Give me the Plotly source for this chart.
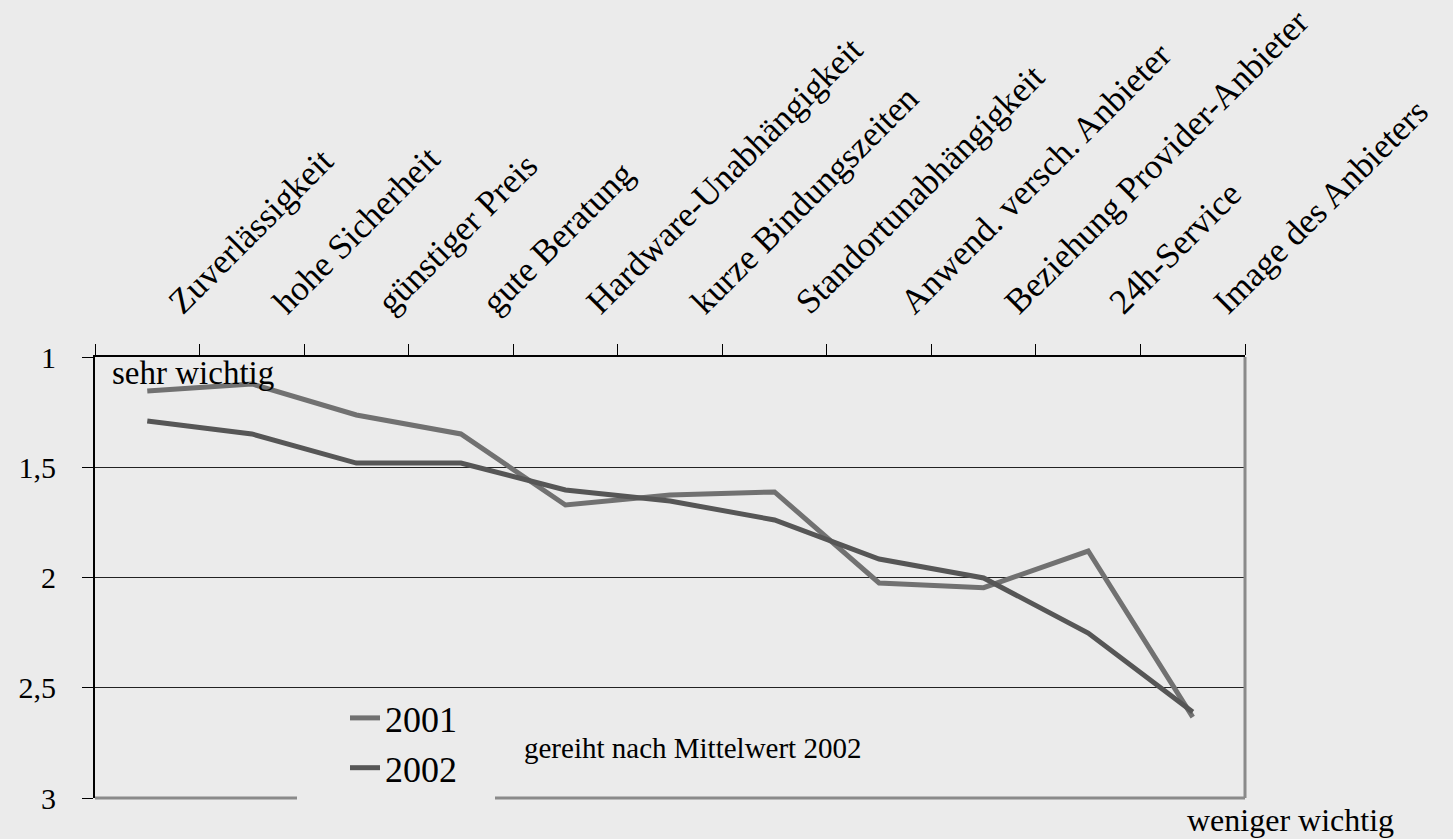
import plotly.graph_objects as go

W, H = 1453, 839
ML, MR, MT, MB = 95, 208, 357, 41
PW, PH = W - ML - MR, H - MT - MB

categories = [
    "Zuverlässigkeit", "hohe Sicherheit", "günstiger Preis", "gute Beratung",
    "Hardware-Unabhängigkeit", "kurze Bindungszeiten", "Standortunabhängigkeit",
    "Anwend. versch. Anbieter", "Beziehung Provider-Anbieter", "24h-Service",
    "Image des Anbieters",
]
values_2001 = [1.154, 1.122, 1.263, 1.349, 1.671, 1.626, 1.612, 2.025, 2.046, 1.880, 2.633]
values_2002 = [1.290, 1.349, 1.481, 1.481, 1.603, 1.653, 1.739, 1.916, 2.002, 2.252, 2.610]

y_tickvals = [1, 1.5, 2, 2.5, 3]
y_ticktext = ["1", "1,5", "2", "2,5", "3"]

BG = "#ebebeb"
FONT = "Liberation Serif, Times New Roman, serif"


def px_x(px):
    return (px - ML) / PW


def px_y(py):
    return (H - MB - py) / PH


fig = go.Figure()
fig.add_trace(go.Scatter(x=categories, y=values_2001, mode="lines", name="2001",
                         line=dict(color="#717171", width=5)))
fig.add_trace(go.Scatter(x=categories, y=values_2002, mode="lines", name="2002",
                         line=dict(color="#565656", width=5)))

fig.update_layout(
    width=W, height=H,
    margin=dict(l=ML, r=MR, t=MT, b=MB, autoexpand=False),
    paper_bgcolor=BG, plot_bgcolor=BG,
    font=dict(family=FONT, color="black"),
    showlegend=True,
    legend=dict(
        x=px_x(345), xanchor="left", y=px_y(688), yanchor="top",
        bgcolor=BG, borderwidth=0,
        font=dict(size=36, family=FONT, color="black"),
        tracegroupgap=0,
    ),
)

fig.update_xaxes(
    side="top", type="category", automargin=False,
    range=[-0.5, len(categories) - 0.5],
    showline=True, linecolor="black", linewidth=2,
    ticks="outside", tickson="boundaries", ticklen=11, tickcolor="black", tickwidth=1,
    tickangle=-45, tickfont=dict(size=35, family=FONT, color="black"),
    ticklabelshift=23, ticklabelstandoff=20,
    showgrid=False, zeroline=False,
)
fig.update_yaxes(
    range=[3, 1], tickvals=y_tickvals, ticktext=y_ticktext, automargin=False,
    showline=True, linecolor="black", linewidth=2,
    ticks="outside", ticklen=11, tickcolor="black", tickwidth=1,
    tickfont=dict(size=30, family=FONT, color="black"),
    ticklabelstandoff=20,
    showgrid=True, gridcolor="#222222", gridwidth=1, zeroline=False,
)

# gray right and bottom frame lines
fig.add_shape(type="line", xref="x domain", yref="y domain", x0=0, x1=1, y0=0, y1=0,
              line=dict(color="#8a8a8a", width=3), layer="above")
fig.add_shape(type="line", xref="x domain", yref="y domain", x0=1, x1=1, y0=0, y1=1,
              line=dict(color="#8a8a8a", width=3), layer="above")
# legend box background (covers the frame line behind the legend, as in the reference)
fig.add_shape(type="rect", xref="paper", yref="paper",
              x0=px_x(297), x1=px_x(495), y0=px_y(808), y1=px_y(692),
              fillcolor=BG, line=dict(width=0), layer="above")

fig.add_annotation(text="sehr wichtig", xref="paper", yref="paper",
                   x=px_x(110), y=px_y(373), xanchor="left", yanchor="middle",
                   showarrow=False, font=dict(size=33, family=FONT, color="black"))
fig.add_annotation(text="gereiht nach Mittelwert 2002", xref="paper", yref="paper",
                   x=px_x(522), y=px_y(748), xanchor="left", yanchor="middle",
                   showarrow=False, font=dict(size=29, family=FONT, color="black"))
fig.add_annotation(text="weniger wichtig", xref="paper", yref="paper",
                   x=px_x(1185), y=px_y(820), xanchor="left", yanchor="middle",
                   showarrow=False, font=dict(size=32, family=FONT, color="black"))

fig.write_html(
    "out.html",
    config={"displayModeBar": False},
    post_script="document.body.style.margin='0px';document.body.style.background='%s';" % BG,
)
